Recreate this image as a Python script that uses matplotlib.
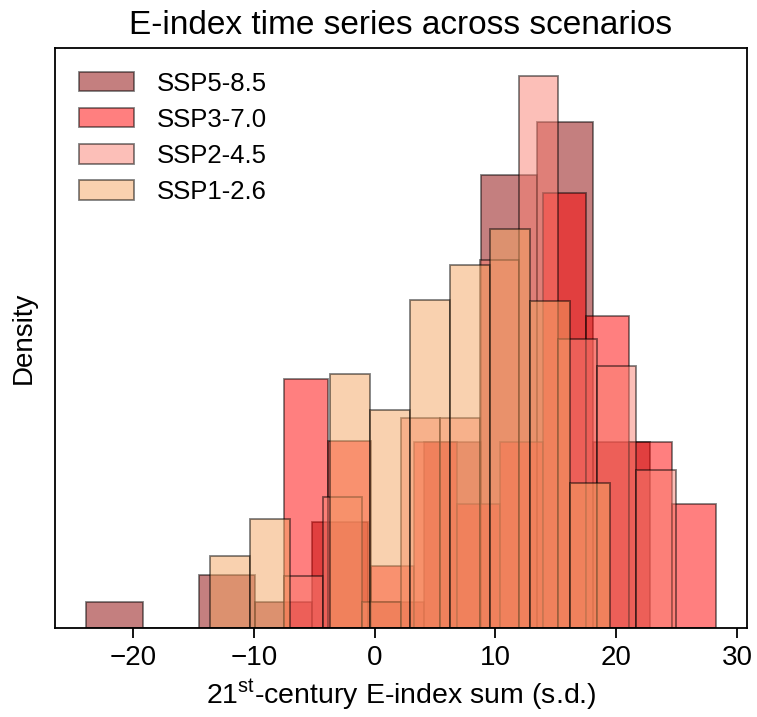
import numpy as np
import matplotlib
matplotlib.use("Agg")
import matplotlib.pyplot as plt

plt.rcParams['font.family'] = ['Liberation Sans', 'DejaVu Sans']
plt.rcParams['mathtext.fontset'] = 'custom'
plt.rcParams['mathtext.rm'] = 'Liberation Sans'
plt.rcParams['mathtext.it'] = 'Liberation Sans:italic'

scenarios = ["SSP5-8.5", "SSP3-7.0", "SSP2-4.5", "SSP1-2.6"]
colors = ["darkred", "red", "salmon", "sandybrown"]

ssp585_edges = [-23.85, -19.19, -14.53, -9.87, -5.21, -0.55, 4.11, 8.77, 13.43, 18.09, 22.75]
ssp585_counts = [1, 0, 2, 1, 4, 1, 7, 17, 19, 7]

ssp370_edges = [-7.47, -3.90, -0.34, 3.23, 6.80, 10.37, 13.94, 17.51, 21.07, 24.64, 28.21]
ssp370_counts = [8, 6, 2, 6, 4, 6, 14, 10, 6, 4]

ssp245_edges = [-7.53, -4.29, -1.04, 2.20, 5.44, 8.69, 11.93, 15.17, 18.41, 21.66, 24.90]
ssp245_counts = [2, 5, 1, 8, 8, 14, 21, 11, 10, 6]

ssp126_edges = [-13.65, -10.34, -7.03, -3.72, -0.41, 2.90, 6.20, 9.51, 12.82, 16.13, 19.44]
ssp126_counts = [2, 3, 0, 7, 6, 9, 10, 11, 9, 4]

xticks = [-20, -10, 0, 10, 20, 30]

series = [(ssp585_edges, ssp585_counts), (ssp370_edges, ssp370_counts),
          (ssp245_edges, ssp245_counts), (ssp126_edges, ssp126_counts)]

fig = plt.figure(figsize=(7.57, 7.17), dpi=100)
ax = fig.add_axes([55 / 757, 1 - 628.3 / 717, (747 - 55) / 757, (628.3 - 48) / 717])

for (edges, counts), name, col in zip(series, scenarios, colors):
    e = np.asarray(edges)
    mids = (e[:-1] + e[1:]) / 2
    ax.hist(mids, bins=e, weights=counts, density=True, color=col, alpha=0.5,
            edgecolor='black', linewidth=1.3, label=name)

ax.set_xticks(xticks)
ax.set_yticks([])
ax.tick_params(axis='x', labelsize=20, length=7, width=1.3, direction='out', pad=5)
for s in ax.spines.values():
    s.set_linewidth(1.3)

ax.set_title("E-index time series across scenarios", fontsize=24, pad=10)
ax.set_xlabel("21$^{\\mathrm{st}}$-century E-index sum (s.d.)", fontsize=20.5, labelpad=5)
ax.set_ylabel("Density", fontsize=20, labelpad=13)

leg = ax.legend(loc='upper left', fontsize=18.5, frameon=False, handlelength=2.15,
                handleheight=0.78, handletextpad=0.9, labelspacing=0.47,
                borderaxespad=0.5, borderpad=0.42)

fig.savefig("out.png", dpi=100)
